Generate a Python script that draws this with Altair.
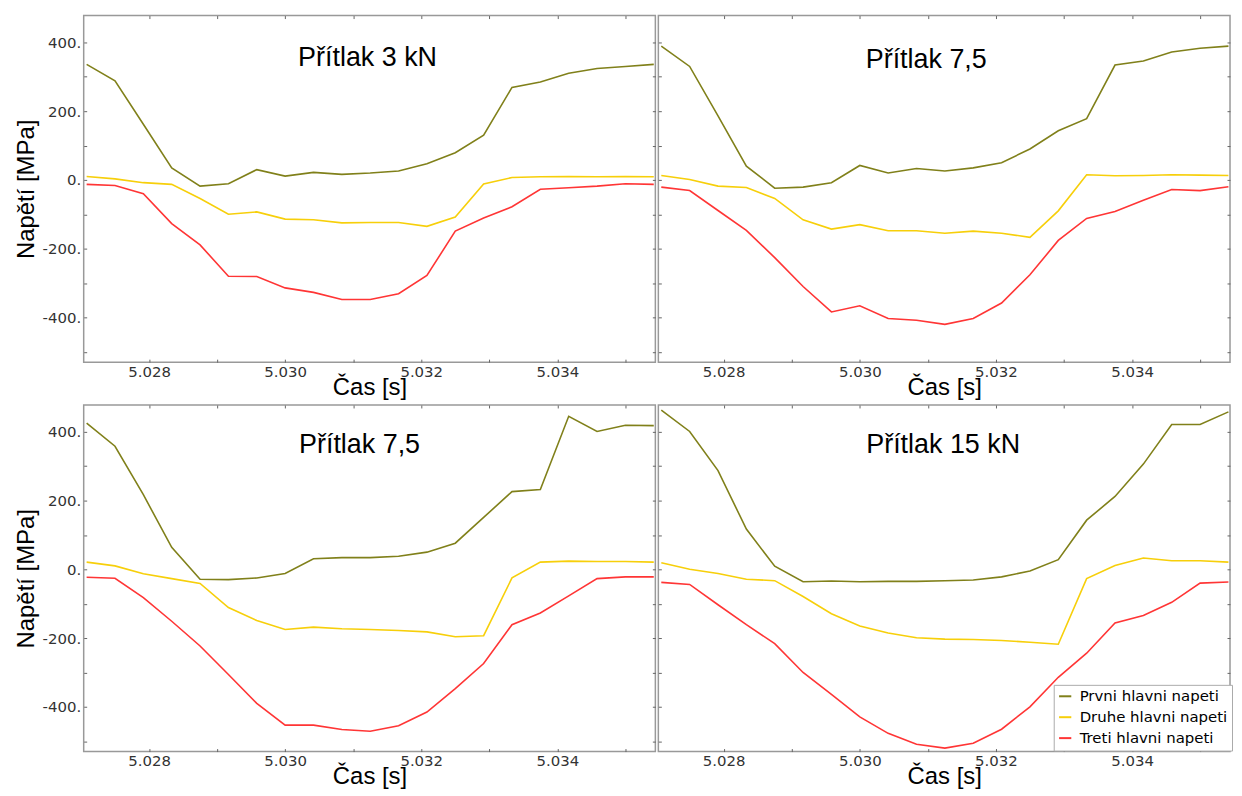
import altair as alt
import pandas as pd

# ---- data ----
cas = [5.0270833, 5.0275, 5.0279167, 5.0283333, 5.02875, 5.0291667, 5.0295833,
       5.03, 5.0304167, 5.0308333, 5.03125, 5.0316667, 5.0320833, 5.0325,
       5.0329167, 5.0333333, 5.03375, 5.0341667, 5.0345833, 5.035, 5.0354167]

serie = ["Prvni hlavni napeti", "Druhe hlavni napeti", "Treti hlavni napeti"]
barvy = ["#80801a", "#f7cf0a", "#ff3535"]

nadpisy = ["Přítlak 3 kN", "Přítlak 7,5", "Přítlak 7,5", "Přítlak 15 kN"]

prvni_1 = [336, 288, 162, 35, -18, -11, 30, 11, 22, 16, 20, 26, 47, 79, 130, 269, 285, 310, 324, 330, 336]
druhe_1 = [10, 3, -8, -13, -54, -100, -93, -114, -116, -125, -124, -124, -135, -108, -12, 7, 9, 10, 9, 10, 9]
treti_1 = [-13, -16, -40, -127, -189, -280, -281, -314, -327, -348, -348, -331, -278, -149, -111, -78, -27, -23, -18, -11, -13]

prvni_2 = [389, 330, 186, 40, -24, -21, -8, 42, 20, 33, 26, 35, 50, 90, 143, 178, 334, 346, 372, 383, 389]
druhe_2 = [13, 1, -18, -22, -54, -116, -143, -130, -148, -148, -155, -149, -155, -167, -90, 15, 12, 13, 15, 14, 13]
treti_2 = [-21, -31, -89, -147, -226, -310, -384, -366, -403, -408, -420, -403, -358, -276, -176, -112, -92, -59, -28, -31, -20]

prvni_3 = [425, 358, 217, 64, -29, -30, -25, -12, 31, 34, 34, 38, 50, 76, 151, 226, 232, 445, 401, 419, 418]
druhe_3 = [21, 10, -13, -27, -41, -111, -149, -175, -168, -173, -175, -178, -182, -196, -193, -25, 21, 24, 23, 23, 21]
treti_3 = [-23, -26, -82, -151, -223, -306, -390, -453, -453, -466, -471, -455, -415, -347, -274, -161, -127, -77, -27, -22, -22]

prvni_4 = [463, 401, 287, 117, 9, -36, -34, -36, -35, -35, -33, -31, -22, -5, 28, 143, 212, 306, 421, 421, 458]
druhe_4 = [19, 0, -12, -29, -33, -79, -129, -165, -185, -199, -203, -204, -207, -212, -218, -27, 11, 33, 25, 25, 21]
treti_4 = [-38, -44, -103, -161, -216, -300, -364, -429, -477, -509, -520, -506, -465, -400, -314, -244, -156, -134, -96, -40, -37]

x_ticks = [5.028, 5.029, 5.030, 5.031, 5.032, 5.033, 5.034, 5.035]
y_ticks = [-500, -400, -300, -200, -100, 0, 100, 200, 300, 400]

panely = [
    (prvni_1, druhe_1, treti_1),
    (prvni_2, druhe_2, treti_2),
    (prvni_3, druhe_3, treti_3),
    (prvni_4, druhe_4, treti_4),
]

# ---- styling ----
W, H = 574, 348
X_DOM = [5.02704, 5.03544]
Y_DOM = [-530, 478]
LABEL_FONT = "DejaVu Sans"
TITLE_FONT = "Liberation Sans"

title_pos = [(285, 51), (269, 53), (277, 48), (286, 48)]


def make_df(vals):
    rows = []
    for name, series in zip(serie, vals):
        for t, v in zip(cas, series):
            rows.append({"cas": t, "napeti": v, "serie": name})
    return pd.DataFrame(rows)


def panel(i):
    df = make_df(panely[i])
    left_col = i % 2 == 0
    last = i == 3

    x_main = alt.X(
        "cas:Q",
        scale=alt.Scale(domain=X_DOM, nice=False, zero=False),
        axis=alt.Axis(
            orient="bottom", values=x_ticks, offset=-3, tickSize=3,
            tickColor="#666666", domain=False, grid=False,
            labelExpr="round(datum.value*1000) % 2 == 0 ? format(datum.value, '.3f') : ''",
            labelFont=LABEL_FONT, labelFontSize=15, labelColor="#333333",
            labelPadding=2, title="Čas [s]", titleFont=TITLE_FONT,
            titleFontSize=24, titleFontWeight="normal", titleColor="black",
            titlePadding=-4,
        ),
    )
    y_main = alt.Y(
        "napeti:Q",
        scale=alt.Scale(domain=Y_DOM, nice=False, zero=False),
        axis=alt.Axis(
            orient="left", values=y_ticks, offset=-3, tickSize=3,
            tickColor="#666666", domain=False, grid=False,
            labels=left_col,
            labelExpr="datum.value % 200 == 0 ? datum.value + '.' : ''",
            labelFont=LABEL_FONT, labelFontSize=15, labelColor="#333333",
            labelPadding=3,
            title="Napětí [MPa]" if left_col else "",
            titleFont=TITLE_FONT, titleFontSize=24, titleFontWeight="normal",
            titleColor="black", titlePadding=4,
        ),
    )
    color = alt.Color(
        "serie:N",
        scale=alt.Scale(domain=serie, range=barvy),
        legend=alt.Legend(
            orient="none", legendX=397, legendY=281, title=None,
            symbolType="stroke", symbolSize=150, symbolStrokeWidth=2,
            labelFont=LABEL_FONT, labelFontSize=15, labelColor="black",
            strokeColor="#aaaaaa", fillColor="white", padding=4,
            rowPadding=5, labelOffset=7, labelLimit=400,
        ) if last else None,
    )

    lines = alt.Chart(df).mark_line(strokeWidth=1.6).encode(
        x=x_main, y=y_main, color=color,
        detail="serie:N",
    )

    ticks = alt.Chart(df).mark_point(opacity=0, size=1).encode(
        x=alt.X("cas:Q", axis=alt.Axis(
            orient="top", values=x_ticks, offset=-3, tickSize=3,
            tickColor="#666666", domain=False, labels=False, grid=False,
            title=None)),
        y=alt.Y("napeti:Q", axis=alt.Axis(
            orient="right", values=y_ticks, offset=-3, tickSize=3,
            tickColor="#666666", domain=False, labels=False, grid=False,
            title=None)),
    )

    tx, ty = title_pos[i]
    nadpis = alt.Chart(pd.DataFrame({"nadpis": [nadpisy[i]]})).mark_text(
        font=TITLE_FONT, fontSize=27, align="center", baseline="alphabetic",
        color="black",
    ).encode(x=alt.value(tx), y=alt.value(ty), text="nadpis:N")

    return alt.layer(lines, ticks, nadpis).properties(width=W, height=H)


chart = alt.concat(
    *[panel(i) for i in range(4)],
    columns=2,
    spacing={"row": 43, "column": 3},
    bounds="flush",
).resolve_legend(
    color="independent",
).properties(
    padding={"left": 5, "top": 4, "right": 0, "bottom": 0},
).configure_view(
    stroke="#999999", strokeWidth=1.5,
)

chart.save("out.html", embed_options={"renderer": "svg", "actions": False})
